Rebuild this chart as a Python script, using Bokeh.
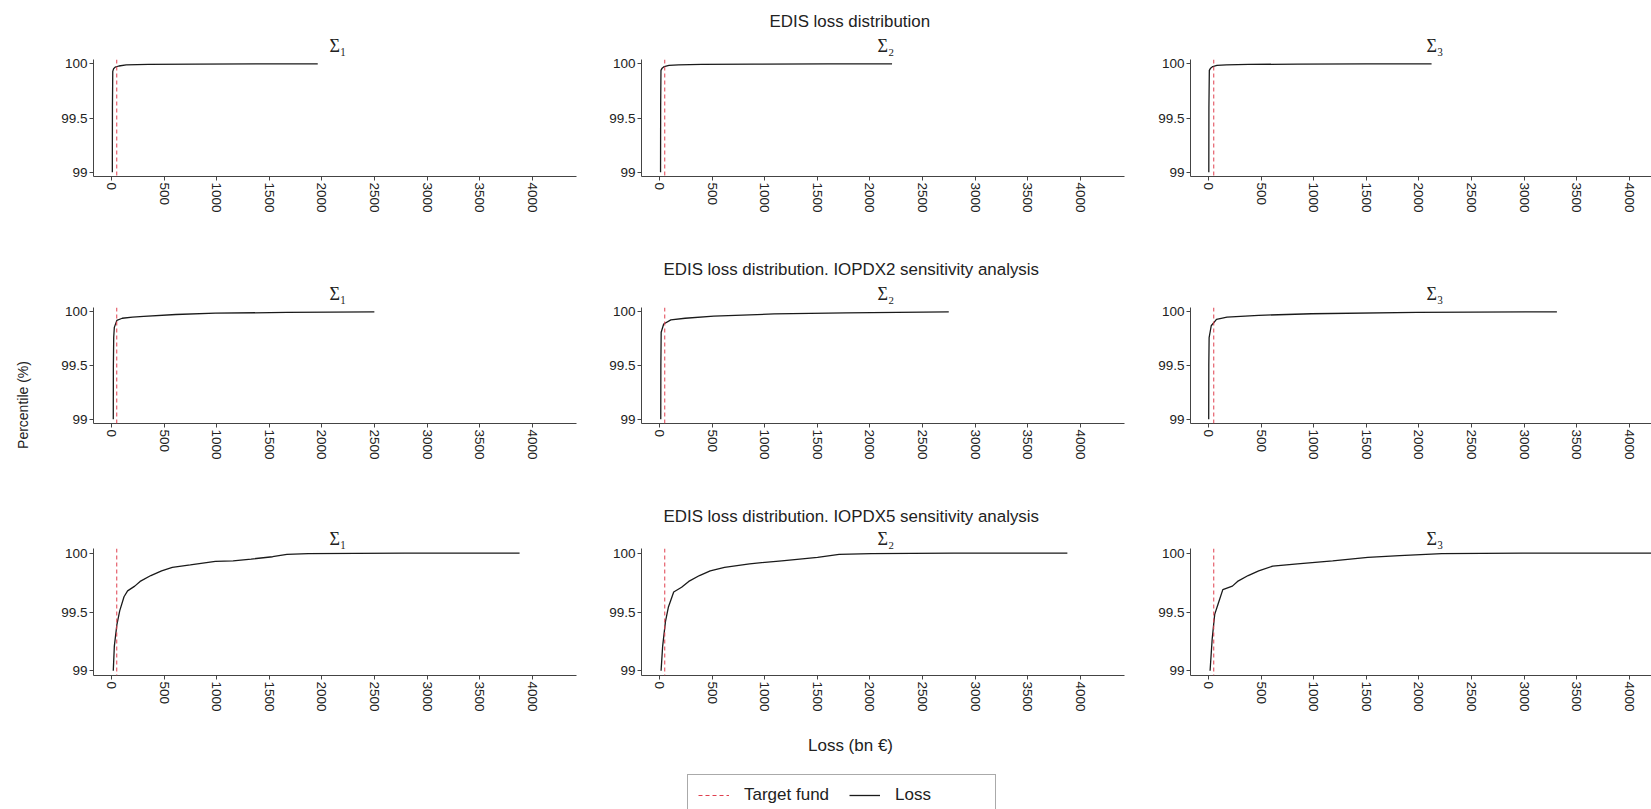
from bokeh.plotting import figure
from bokeh.layouts import row, column
from bokeh.models import (Span, Title, FixedTicker, NumeralTickFormatter, Legend,
                          LegendItem, Label, Range1d)
from bokeh.embed import file_html
from bokeh.resources import INLINE

# ---------------- data ----------------
row_titles = ["EDIS loss distribution",
              "EDIS loss distribution. IOPDX2 sensitivity analysis",
              "EDIS loss distribution. IOPDX5 sensitivity analysis"]
panel_titles = ["\u03a3\u2081", "\u03a3\u2082", "\u03a3\u2083"]
x_ticks = [0, 500, 1000, 1500, 2000, 2500, 3000, 3500, 4000]
y_ticks = [99, 99.5, 100]
target_fund = 50
x_label = "Loss (bn \u20ac)"
y_label = "Percentile (%)"
legend_labels = ["Target fund", "Loss"]

# Row 1: EDIS loss distribution
loss_r1_s1 = [8, 9, 12, 20, 35, 70, 140, 350, 800, 1400, 1960]
pct_r1_s1 = [99.0, 99.6, 99.93, 99.955, 99.97, 99.98, 99.99, 99.995, 99.997, 99.999, 100.0]
loss_r1_s2 = [10, 11, 14, 25, 45, 90, 180, 400, 900, 1600, 2210]
pct_r1_s2 = [99.0, 99.6, 99.94, 99.96, 99.975, 99.985, 99.99, 99.995, 99.997, 99.999, 100.0]
loss_r1_s3 = [3, 4, 8, 20, 40, 80, 170, 380, 850, 1500, 2120]
pct_r1_s3 = [99.0, 99.6, 99.94, 99.96, 99.975, 99.985, 99.99, 99.995, 99.997, 99.999, 100.0]

# Row 2: IOPDX2 sensitivity analysis
loss_r2_s1 = [17, 18, 21, 27, 51, 102, 200, 306, 612, 987, 1667, 2498]
pct_r2_s1 = [99.0, 99.5, 99.76, 99.855, 99.92, 99.94, 99.95, 99.957, 99.975, 99.987, 99.994, 100.0]
loss_r2_s2 = [12, 13, 16, 40, 108, 244, 516, 1091, 1774, 2749]
pct_r2_s2 = [99.0, 99.5, 99.81, 99.886, 99.925, 99.94, 99.96, 99.98, 99.99, 100.0]
loss_r2_s3 = [2, 3, 6, 26, 76, 176, 476, 979, 1981, 3311]
pct_r2_s3 = [99.0, 99.5, 99.76, 99.87, 99.93, 99.95, 99.967, 99.982, 99.994, 100.0]

# Row 3: IOPDX5 sensitivity analysis
loss_r3_s1 = [17, 27, 51, 78, 119, 153, 221, 272, 374, 476, 578, 749, 987, 1156, 1327,
              1531, 1667, 1870, 2789, 3878]
pct_r3_s1 = [99.0, 99.21, 99.39, 99.51, 99.63, 99.68, 99.72, 99.76, 99.81, 99.85, 99.88,
             99.90, 99.93, 99.935, 99.95, 99.97, 99.99, 99.997, 100.0, 100.0]
loss_r3_s2 = [15, 30, 57, 84, 135, 210, 278, 380, 482, 618, 856, 1162, 1502, 1707, 2012,
              2795, 3876]
pct_r3_s2 = [99.0, 99.21, 99.42, 99.54, 99.67, 99.71, 99.76, 99.81, 99.85, 99.88, 99.91,
             99.935, 99.964, 99.99, 99.997, 100.0, 100.0]
loss_r3_s3 = [15, 35, 59, 92, 136, 227, 276, 377, 477, 610, 846, 1180, 1514, 1816, 2217,
              2987, 4250]
pct_r3_s3 = [99.0, 99.27, 99.48, 99.57, 99.69, 99.72, 99.76, 99.81, 99.85, 99.89, 99.91,
             99.935, 99.964, 99.98, 99.997, 100.0, 100.0]

series = [
    [(loss_r1_s1, pct_r1_s1), (loss_r1_s2, pct_r1_s2), (loss_r1_s3, pct_r1_s3)],
    [(loss_r2_s1, pct_r2_s1), (loss_r2_s2, pct_r2_s2), (loss_r2_s3, pct_r2_s3)],
    [(loss_r3_s1, pct_r3_s1), (loss_r3_s2, pct_r3_s2), (loss_r3_s3, pct_r3_s3)],
]

# ---------------- styling / layout ----------------
FONT = "Liberation Sans"
SERIF = "Liberation Serif"
TXT = "#222222"
AXC = "#444444"
RED = "#e0404f"
X_START, X_END = -171.0, 4419.0
FULL_FRAME = 483
Y_START, Y_END = 98.96, 100.04

col_w = [554, 548, 511]
col_l = [55, 49, 50]
col_r = [16, 16, 0]
row_h = [248, 247, 236]
row_t = [59, 59, 53]
row_b = [72, 72, 56]
row_title_offset = [128, 22, 22]
sigma_standoff = [7, 7, 0]
title_standoff = [0, 0, 2]


def style_axes(p):
    p.xgrid.visible = False
    p.ygrid.visible = False
    p.outline_line_color = None
    for ax in (p.xaxis[0], p.yaxis[0]):
        ax.axis_line_color = AXC
        ax.major_tick_line_color = AXC
        ax.minor_tick_line_color = None
        ax.major_tick_out = 4
        ax.major_tick_in = 0
        ax.major_label_standoff = 2
        ax.major_label_text_font = FONT
        ax.major_label_text_font_size = "13.5px"
        ax.major_label_text_color = TXT
    p.xaxis.ticker = FixedTicker(ticks=x_ticks)
    p.xaxis.major_label_orientation = "vertical"
    p.yaxis.ticker = FixedTicker(ticks=y_ticks)
    p.yaxis.formatter = NumeralTickFormatter(format="0.[0]")


rows = []
for ri in range(3):
    figs = []
    for ci in range(3):
        frame_w = col_w[ci] - col_l[ci] - col_r[ci]
        x_end = X_START + (X_END - X_START) * frame_w / FULL_FRAME
        p = figure(width=col_w[ci], height=row_h[ri],
                   x_range=Range1d(X_START, x_end), y_range=Range1d(Y_START, Y_END),
                   toolbar_location=None, output_backend="svg", title=None,
                   min_border_left=col_l[ci], min_border_right=col_r[ci],
                   min_border_top=row_t[ri], min_border_bottom=row_b[ri])
        style_axes(p)
        loss, pct = series[ri][ci]
        p.add_layout(Span(location=target_fund, dimension="height", line_color=RED,
                          line_dash="4 3", line_width=1))
        p.line(loss, pct, line_color="#1a1a1a", line_width=1.3)
        p.add_layout(Title(text=panel_titles[ci], align="left", offset=236,
                           standoff=sigma_standoff[ri],
                           text_font=SERIF, text_font_size="18px",
                           text_font_style="normal", text_color=TXT), "above")
        if ci == 1:
            p.add_layout(Title(text=row_titles[ri], align="left",
                               offset=row_title_offset[ri], standoff=title_standoff[ri],
                               text_font=FONT, text_font_size="16.9px",
                               text_font_style="normal", text_color=TXT), "above")
        figs.append(p)
    rows.append(row(*figs))

# bottom strip: x label and legend
bw, bh = 1613, 78
pb = figure(width=bw, height=bh, x_range=Range1d(0, bw), y_range=Range1d(0, bh),
            toolbar_location=None, output_backend="svg", title=None,
            min_border_left=0, min_border_right=0, min_border_top=0, min_border_bottom=0)
pb.xaxis.visible = False
pb.yaxis.visible = False
pb.xgrid.visible = False
pb.ygrid.visible = False
pb.outline_line_color = None
pb.add_layout(Label(x=812, y=64, text=x_label, text_align="center", text_baseline="middle",
                    text_font=FONT, text_font_size="17px", text_color=TXT))
# legend proxies, kept outside the visible range
r_t = pb.line([-50, -40], [-50, -50], line_color=RED, line_dash="4 3", line_width=1)
r_l = pb.line([-50, -40], [-50, -50], line_color="#1a1a1a", line_width=1.3)
leg = Legend(items=[LegendItem(label=legend_labels[0], renderers=[r_t]),
                    LegendItem(label=legend_labels[1], renderers=[r_l])],
             orientation="horizontal", location=(649, -7), padding=10, spacing=15,
             glyph_width=31, glyph_height=16, label_standoff=15, label_width=90,
             label_text_font=FONT, label_text_font_size="17px", label_text_color=TXT,
             border_line_color="#555555", border_line_width=1, margin=0)
pb.add_layout(leg)

# left strip: y label
pl = figure(width=38, height=809, toolbar_location=None, output_backend="svg", title=None,
            min_border_left=30, min_border_right=0, min_border_top=0, min_border_bottom=0)
pl.xaxis.visible = False
pl.yaxis.visible = False
pl.xgrid.visible = False
pl.ygrid.visible = False
pl.outline_line_color = None
pl.add_layout(Title(text=y_label, align="center", standoff=0, text_font=FONT,
                    text_font_size="14px", text_font_style="normal", text_color=TXT), "left")

root = row(pl, column(*rows, pb))
open("out.html", "w").write(file_html(root, INLINE))
